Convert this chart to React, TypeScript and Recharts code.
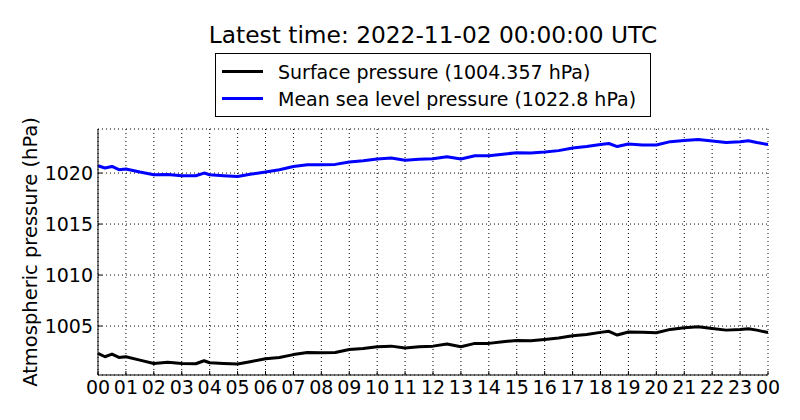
import { LineChart, Line, XAxis, YAxis, CartesianGrid, Legend } from "recharts"

const FONT = "'DejaVu Sans', Verdana, sans-serif"

// hours since 00 UTC
const hours = [
  0, 0.25, 0.5, 0.75, 1, 1.5, 2, 2.5, 3, 3.5, 3.8, 4, 4.5, 5, 5.5, 6, 6.5, 7, 7.5, 8, 8.5, 9,
  9.5, 10, 10.5, 11, 11.5, 12, 12.5, 13, 13.5, 14, 14.5, 15, 15.5, 16, 16.5, 17, 17.5, 18,
  18.3, 18.6, 19, 19.5, 20, 20.5, 21, 21.5, 22, 22.5, 23, 23.3, 23.6, 24,
]

const mslp = [
  1020.72, 1020.5, 1020.65, 1020.33, 1020.4, 1020.1, 1019.84, 1019.86, 1019.74, 1019.74,
  1020.0, 1019.84, 1019.74, 1019.67, 1019.9, 1020.1, 1020.33, 1020.65, 1020.82, 1020.82,
  1020.85, 1021.08, 1021.2, 1021.38, 1021.47, 1021.25, 1021.35, 1021.4, 1021.6, 1021.38,
  1021.7, 1021.7, 1021.85, 1022.0, 1021.97, 1022.06, 1022.2, 1022.45, 1022.6, 1022.8,
  1022.9, 1022.6, 1022.85, 1022.75, 1022.75, 1023.08, 1023.2, 1023.3, 1023.15, 1023.0,
  1023.08, 1023.17, 1023.0, 1022.8,
]

const surface = [
  1002.31, 1001.99, 1002.25, 1001.92, 1001.99, 1001.66, 1001.33, 1001.46, 1001.33, 1001.3,
  1001.6, 1001.4, 1001.33, 1001.27, 1001.53, 1001.8, 1001.92, 1002.2, 1002.4, 1002.38,
  1002.4, 1002.7, 1002.8, 1002.97, 1003.03, 1002.84, 1002.97, 1003.03, 1003.23, 1002.97,
  1003.3, 1003.3, 1003.46, 1003.59, 1003.56, 1003.69, 1003.82, 1004.05, 1004.18, 1004.38,
  1004.48, 1004.12, 1004.41, 1004.38, 1004.34, 1004.67, 1004.84, 1004.93, 1004.77, 1004.6,
  1004.67, 1004.74, 1004.6, 1004.36,
]

const hourTicks = Array.from({ length: 25 }, (_, i) => i)
const pressureTicks = [1005, 1010, 1015, 1020]
const pressureDomain = [1000.2, 1024.32]

const title = "Latest time: 2022-11-02 00:00:00 UTC"
const seriesNames = ["Surface pressure (1004.357 hPa)", "Mean sea level pressure (1022.8 hPa)"]

const data = hours.map((h, i) => ({ h, surface: surface[i], mslp: mslp[i] }))

const fmtHour = (h: number) => String(h % 24).padStart(2, "0")

function LegendBox() {
  const items = [
    { name: seriesNames[0], color: "#000000" },
    { name: seriesNames[1], color: "#0000ff" },
  ]
  return (
    <div
      style={{
        position: "absolute",
        left: 215,
        top: 53,
        width: 436,
        height: 64,
        border: "1px solid #000",
        background: "#fff",
        fontFamily: FONT,
        fontSize: 19,
        boxSizing: "border-box",
      }}
    >
      {items.map((it, i) => (
        <div
          key={it.name}
          style={{ position: "absolute", left: 6, top: 4 + i * 27, height: 27, display: "flex", alignItems: "center" }}
        >
          <div style={{ width: 41, height: 3, background: it.color }} />
          <span style={{ marginLeft: 15, whiteSpace: "nowrap" }}>{it.name}</span>
        </div>
      ))}
    </div>
  )
}

function YLabel() {
  return (
    <text
      x={30}
      y={252}
      transform="rotate(-90, 30, 252)"
      textAnchor="middle"
      dominantBaseline="central"
      fontFamily={FONT}
      fontSize={19.5}
      fill="#000"
    >
      Atmospheric pressure (hPa)
    </text>
  )
}

export default function App() {
  const tickStyle = { fontSize: 19, fill: "#000", fontFamily: FONT }
  return (
    <div style={{ position: "absolute", left: 0, top: 0, width: 800, height: 420, background: "#fff" }}>
      <div
        style={{
          position: "absolute",
          left: 98,
          width: 670,
          top: 20,
          textAlign: "center",
          fontFamily: FONT,
          fontSize: 23.3,
          lineHeight: "30px",
          color: "#000",
        }}
      >
        {title}
      </div>
      <LineChart
        width={800}
        height={420}
        data={data}
        margin={{ top: 129, right: 32, bottom: 0, left: 0 }}
      >
        <CartesianGrid stroke="#000" strokeWidth={1} strokeDasharray="1 3" />
        <XAxis
          dataKey="h"
          type="number"
          domain={[0, 24]}
          ticks={hourTicks}
          tickFormatter={fmtHour}
          interval={0}
          height={45}
          tickSize={-4}
          tickMargin={10}
          tick={tickStyle}
          axisLine={{ stroke: "#000" }}
          tickLine={{ stroke: "#000" }}
        />
        <XAxis
          xAxisId="top"
          orientation="top"
          type="number"
          domain={[0, 24]}
          ticks={hourTicks}
          interval={0}
          height={0}
          tickSize={-4}
          tick={false}
          axisLine={{ stroke: "#000" }}
          tickLine={{ stroke: "#000" }}
        />
        <YAxis
          type="number"
          domain={pressureDomain}
          ticks={pressureTicks}
          allowDataOverflow
          width={98}
          tickSize={-4}
          tickMargin={9}
          tick={tickStyle}
          axisLine={{ stroke: "#000" }}
          tickLine={{ stroke: "#000" }}
          label={{ content: () => <YLabel /> }}
        />
        <YAxis
          yAxisId="right"
          orientation="right"
          type="number"
          domain={pressureDomain}
          ticks={pressureTicks}
          allowDataOverflow
          width={0}
          tickSize={-4}
          tick={false}
          axisLine={{ stroke: "#000" }}
          tickLine={{ stroke: "#000" }}
        />
        <Line
          dataKey="surface"
          name={seriesNames[0]}
          stroke="#000000"
          strokeWidth={3}
          strokeLinejoin="round"
          dot={false}
          type="linear"
          isAnimationActive={false}
        />
        <Line
          dataKey="mslp"
          name={seriesNames[1]}
          stroke="#0000ff"
          strokeWidth={3}
          strokeLinejoin="round"
          dot={false}
          type="linear"
          isAnimationActive={false}
        />
        <Legend content={() => null} />
      </LineChart>
      <LegendBox />
    </div>
  )
}
